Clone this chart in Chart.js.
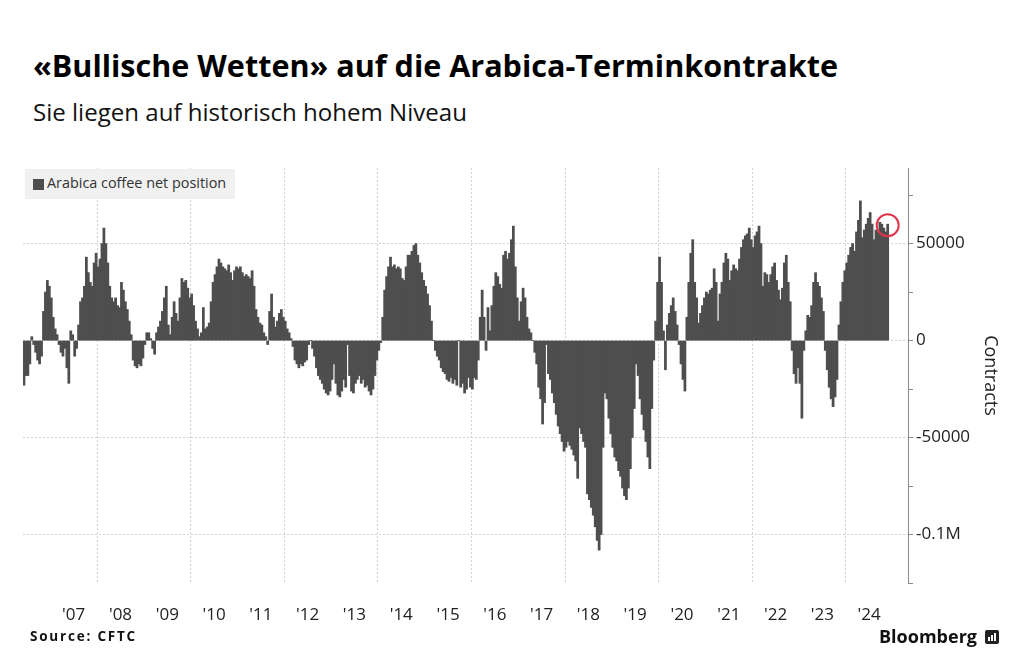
<!DOCTYPE html>
<html>
<head>
<meta charset="utf-8">
<script src="https://cdn.jsdelivr.net/npm/chart.js@4.4.1/dist/chart.umd.min.js"></script>
<style>
  html, body { margin: 0; padding: 0; background: #fff; }
  body { width: 1024px; height: 671px; position: relative; overflow: hidden; font-family: "Open Sans", "Noto Sans", sans-serif; }
  #chartCanvas { position: absolute; left: 0; top: 0; }
  .txt { position: absolute; white-space: nowrap; line-height: 1; }
  #title { left: 33px; top: 50px; font-size: 26px; font-weight: 700; color: #000; }
  #subtitle { left: 33px; top: 100px; font-size: 21px; font-weight: 400; color: #111; }
  #legend { position: absolute; left: 25px; top: 169px; width: 210px; height: 30px; background: #f1f1f1; z-index: 2; }
  #legend .sw { position: absolute; left: 8px; top: 10px; width: 11px; height: 11px; background: #4e4e4e; }
  #legend .lt { position: absolute; left: 22px; top: 7px; font-size: 14.4px; color: #333; white-space: nowrap; line-height: 1; }
  #source { left: 30px; top: 630px; font-size: 13.5px; font-weight: 700; color: #111; }
  #bbg { left: 879px; top: 627px; font-size: 18px; font-weight: 700; color: #111; }
  #bbgIcon { position: absolute; left: 985px; top: 630px; width: 14px; height: 14px; background: #222; border-radius: 2px; }
  #bbgIcon i { position: absolute; bottom: 3px; width: 2px; background: #fff; }
</style>
</head>
<body>
<div id="title" class="txt">«Bullische Wetten» auf die Arabica-Terminkontrakte</div>
<div id="subtitle" class="txt">Sie liegen auf historisch hohem Niveau</div>
<canvas id="chartCanvas" width="1024" height="671"></canvas>
<div id="legend"><div class="sw"></div><div class="lt">Arabica coffee net position</div></div>
<div id="source" class="txt">Source: CFTC</div>
<div id="bbg" class="txt">Bloomberg</div>
<div id="bbgIcon"><i style="left:3px;height:4px"></i><i style="left:6px;height:6px"></i><i style="left:9px;height:8px"></i></div>

<script>
// ---------------- DATA ----------------
// Arabica coffee net position (CFTC), read off the chart twice a month
// (first half, second half of each month), in thousands of contracts.
const valueUnit = 1000;
const firstYear = 2006;
const firstMonth = 6; // series starts June 2006

const net2006 = [-23, -18, -18, -12, 2, -2, -6, -10, -12, -8, 15, 25, 31, 28];
const net2007 = [22, 12, 6, 3, -2, -6, -8, -4, -14, -22, 5, 3, -8, -4, 8, 20, 22, 28, 43, 35, 30, 28, 40, 45];
const net2008 = [38, 42, 50, 58, 50, 40, 28, 22, 20, 22, 18, 17, 30, 26, 20, 16, 10, 3, -10, -13, -14, -12, -13, -9];
const net2009 = [-2, 4, 4, 1, -4, -7, 4, 7, 10, 15, 22, 28, 8, 3, 12, 20, 14, 10, 22, 32, 30, 31, 27, 22];
const net2010 = [24, 18, 10, 6, 2, 4, 17, 6, 7, 9, 20, 30, 34, 38, 42, 40, 38, 37, 36, 39, 35, 31, 36, 38];
const net2011 = [37, 38, 35, 33, 34, 33, 32, 36, 28, 16, 12, 9, 8, 4, 2, -2, 15, 24, 12, 7, 10, 14, 16, 12];
const net2012 = [10, 6, 4, 1, -3, -10, -12, -14, -12, -13, -11, -10, -2, 0, -4, -8, -14, -18, -20, -22, -25, -27, -28, -26];
const net2013 = [-20, -12, -22, -28, -29, -26, -20, -24, -2, -18, -26, -27, -22, -20, -18, -22, -20, -24, -23, -26, -28, -25, -18, -10];
const net2014 = [-5, -1, 12, 26, 33, 38, 43, 38, 39, 37, 38, 37, 32, 31, 38, 44, 44, 46, 49, 50, 44, 40, 35, 31];
const net2015 = [28, 24, 18, 10, 0, -5, -8, -10, -14, -16, -17, -20, -21, -19, -22, -20, -23, 0, -24, -22, -27, -25, -19, -24];
const net2016 = [-25, -19, -20, -10, 12, 26, 12, -5, 17, 5, 18, 28, 35, 33, 29, 27, 44, 46, 42, 45, 52, 59, 38, 22];
const net2017 = [10, 20, 27, 22, 12, 6, 4, 0, -6, -12, -24, -30, -43, -32, -2, -17, -20, -27, -32, -38, -44, -48, -52, -57];
const net2018 = [-55, -52, -54, -56, -59, -62, -71, -45, -48, -52, -55, -79, -82, -86, -90, -96, -103, -108, -100, -55, -27, -30, -40, -48];
const net2019 = [-55, -60, -62, -67, -70, -76, -80, -82, -76, -66, -50, -35, -12, -18, -30, -38, -46, -52, -60, -66, -35, -10, 10, 30];
const net2020 = [43, 30, 5, -15, 8, 14, 18, 22, 15, 8, -2, -12, -20, -26, 12, 30, 45, 52, 30, 22, 9, 14, 18, 22];
const net2021 = [25, 24, 26, 27, 37, 30, 10, 24, 30, 40, 45, 42, 31, 36, 39, 37, 36, 42, 48, 52, 54, 55, 58, 52];
const net2022 = [48, 54, 56, 59, 50, 28, 35, 34, 30, 34, 38, 40, 31, 26, 21, 27, 40, 44, 30, 20, -5, -17, -22, -14];
const net2023 = [-22, -40, -5, 5, 13, 12, 18, 30, 35, 30, 28, 22, 15, -5, -15, -24, -30, -34, -29, -20, 8, 20, 30, 36];
const net2024 = [40, 44, 48, 50, 46, 56, 62, 72, 53, 57, 60, 63, 66, 60, 52, 57, 56, 61, 60, 58, 56, 60];

const yearTickLabels = ["'07", "'08", "'09", "'10", "'11", "'12", "'13", "'14", "'15", "'16", "'17", "'18", "'19", "'20", "'21", "'22", "'23", "'24"];
const firstLabelYear = 2007;
const gridYears = [2008, 2010, 2012, 2014, 2016, 2018, 2020, 2022, 2024];
const yTickValues = [-125000, -100000, -75000, -50000, -25000, 0, 25000, 50000, 75000];
const yTickLabels = { "50000": "50000", "0": "0", "-50000": "-50000", "-100000": "-0.1M" };

const netPosition = [].concat(net2006, net2007, net2008, net2009, net2010, net2011, net2012, net2013,
  net2014, net2015, net2016, net2017, net2018, net2019, net2020, net2021, net2022, net2023, net2024);

// each value sits at the centre of its half-month on a time-in-years axis
const points = netPosition.map((v, i) => {
  const half = (firstMonth - 1) * 2 + i;
  const yr = firstYear + Math.floor(half / 24);
  const h = half % 24;
  return { x: yr + (h + 0.5) / 24, y: v * valueUnit };
});

// ---------------- TEXT FITTING ----------------
function fitWidth(id, target) {
  const el = document.getElementById(id);
  const w = el.getBoundingClientRect().width;
  const fs = parseFloat(getComputedStyle(el).fontSize);
  el.style.fontSize = (fs * target / w).toFixed(2) + 'px';
}
function fitSpacing(id, target) {
  const el = document.getElementById(id);
  const w = el.getBoundingClientRect().width;
  const n = el.textContent.length;
  el.style.letterSpacing = ((target - w) / n).toFixed(2) + 'px';
}
fitWidth('title', 805);
fitWidth('subtitle', 434);
fitSpacing('source', 107);
fitSpacing('bbg', 98);

// ---------------- CHART ----------------
const FONT = '"Open Sans", "Noto Sans", sans-serif';
const GRID = '#d2d2d2';

const lastMarker = {
  id: 'lastMarker',
  afterDatasetsDraw(chart) {
    const meta = chart.getDatasetMeta(0);
    const el = meta.data[meta.data.length - 1];
    const ctx = chart.ctx;
    ctx.save();
    ctx.strokeStyle = '#e0364b';
    ctx.lineWidth = 2;
    ctx.beginPath();
    ctx.arc(el.x, el.y + 1, 11, 0, Math.PI * 2);
    ctx.stroke();
    ctx.restore();
  }
};

new Chart(document.getElementById('chartCanvas'), {
  type: 'bar',
  data: {
    datasets: [{
      label: 'Arabica coffee net position',
      data: points,
      backgroundColor: '#4e4e4e',
      borderWidth: 0,
      barPercentage: 1,
      categoryPercentage: 1,
      inflateAmount: 0.4
    }]
  },
  options: {
    responsive: false,
    animation: false,
    devicePixelRatio: 1,
    layout: { padding: { left: 23, right: 23, top: 168, bottom: 43 } },
    plugins: { legend: { display: false }, tooltip: { enabled: false } },
    scales: {
      x: {
        type: 'linear',
        position: 'bottom',
        offset: false,
        min: firstYear + (firstMonth - 1) / 12,
        max: 2025.33,
        afterBuildTicks: (s) => {
          const t = gridYears.map(v => ({ value: v }))
            .concat(yearTickLabels.map((l, i) => ({ value: firstLabelYear + i + 0.5 })));
          t.sort((a, b) => a.value - b.value);
          s.ticks = t;
        },
        afterFit: (s) => { s.height = 45; },
        ticks: {
          autoSkip: false,
          maxRotation: 0,
          padding: 22,
          color: '#222',
          font: { family: FONT, size: 17 },
          callback: (value) => {
            const idx = Math.round(value - 0.5 - firstLabelYear);
            return (Math.abs(value - Math.floor(value) - 0.5) < 1e-6 && yearTickLabels[idx]) ? yearTickLabels[idx] : '';
          }
        },
        grid: {
          offset: false,
          drawTicks: false,
          lineWidth: 1,
          color: (ctx) => (ctx.tick && gridYears.includes(ctx.tick.value)) ? GRID : 'rgba(0,0,0,0)'
        },
        border: { display: false, dash: [2, 2] }
      },
      y: {
        type: 'linear',
        position: 'right',
        min: -125000,
        max: 89000,
        afterBuildTicks: (s) => { s.ticks = yTickValues.map(v => ({ value: v })); },
        afterFit: (s) => { s.width = 93; },
        ticks: {
          autoSkip: false,
          padding: 3,
          color: '#222',
          font: { family: FONT, size: 17 },
          callback: (value) => (yTickLabels[String(value)] !== undefined ? yTickLabels[String(value)] : '')
        },
        grid: {
          drawTicks: true,
          tickLength: 5,
          tickColor: '#8a8a8a',
          lineWidth: 1,
          color: (ctx) => (ctx.tick && ctx.tick.value % 50000 === 0) ? GRID : 'rgba(0,0,0,0)'
        },
        border: { display: true, color: '#8a8a8a', width: 1, dash: [2, 2] },
        title: {
          display: true,
          text: 'Contracts',
          color: '#222',
          font: { family: FONT, size: 18 },
          padding: 0
        }
      }
    }
  },
  plugins: [lastMarker]
});
</script>
</body>
</html>
